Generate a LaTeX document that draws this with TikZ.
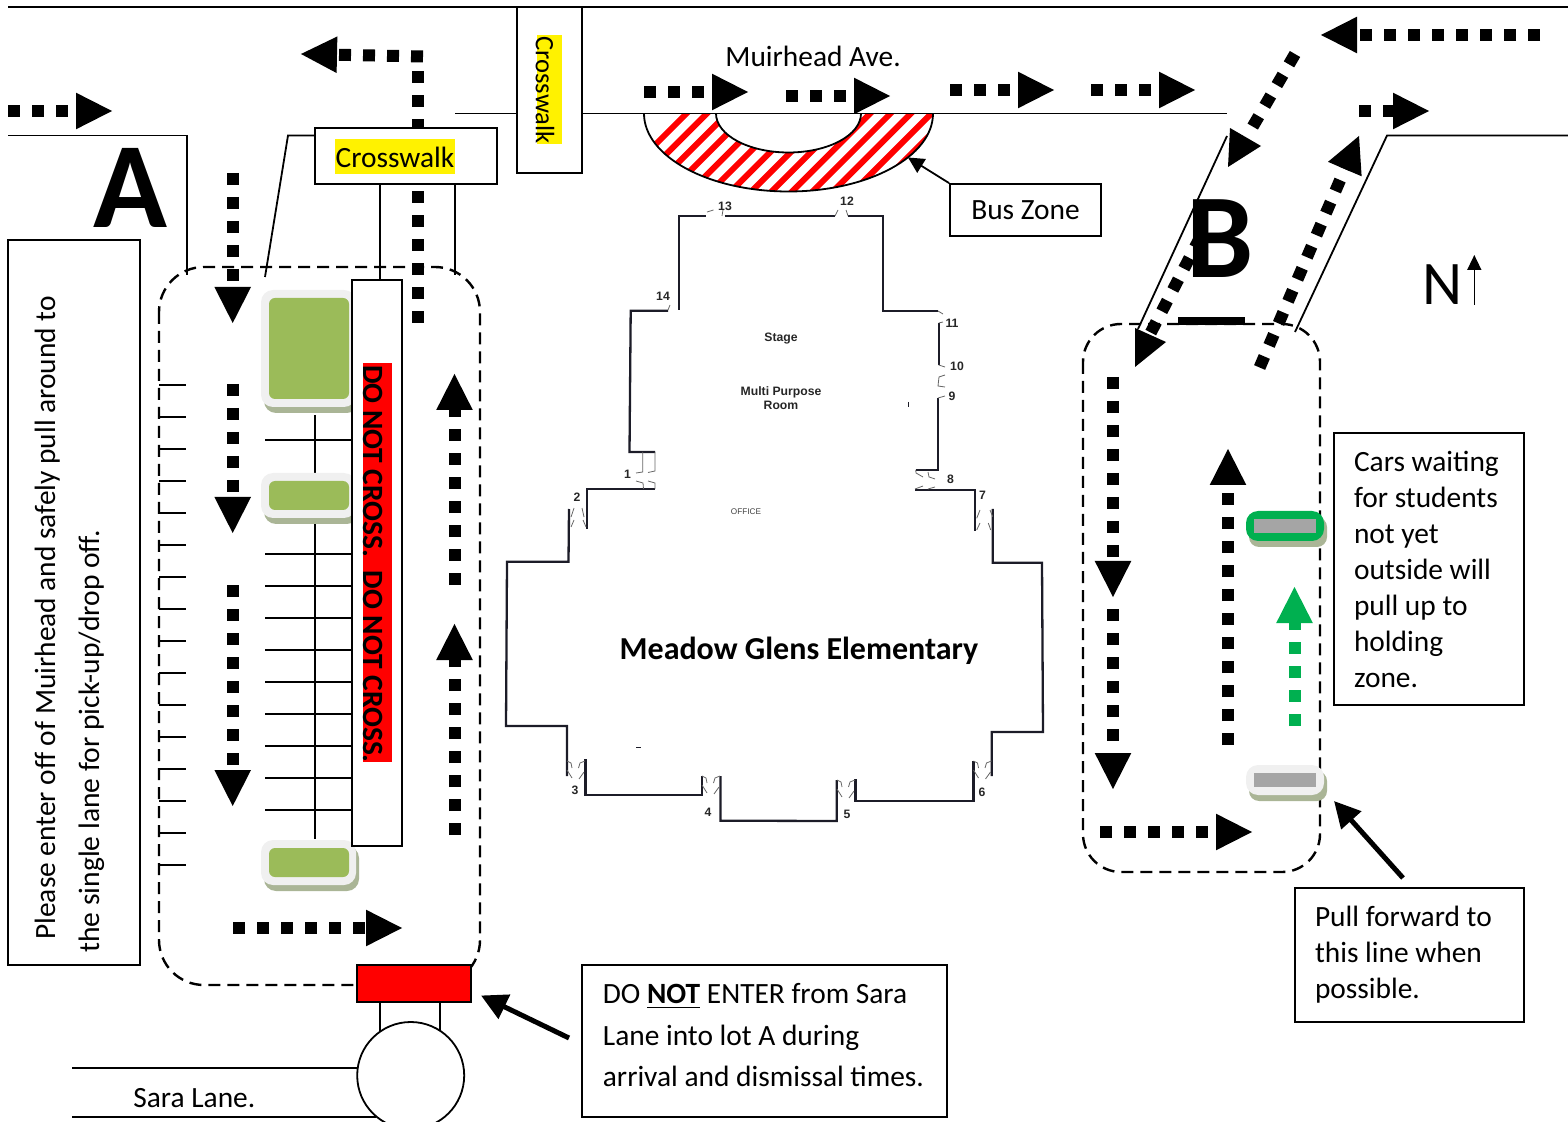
\documentclass[tikz,border=0pt]{standalone}
\usepackage{fontspec}
\setmainfont{Carlito}
\newfontfamily\planfont{Liberation Sans}
\usepackage{xcolor}
\usetikzlibrary{arrows.meta,positioning}
\definecolor{padgreen}{HTML}{9BBB59}
\definecolor{padrim}{HTML}{F0F0F0}
\definecolor{padshade}{HTML}{AAB596}
\definecolor{padgray}{HTML}{A5A5A5}
\definecolor{holdgreen}{HTML}{00B050}
\definecolor{wallink}{HTML}{1C1C28}

\begin{document}
\begin{tikzpicture}[x=0.5pt, y=-0.5pt,
    roadline/.style={line width=0.9pt},
    lotline/.style={line width=1.2pt, dash pattern=on 6pt off 3.5pt},
    darr/.style={line width=6pt, dash pattern=on 6pt off 6pt, shorten >=-0.5pt, -{Triangle[length=18.5pt,width=16.8pt]}},
    dots/.style={line width=6pt, dash pattern=on 6pt off 6pt},
    ptr/.style={line width=2.5pt, -{Triangle[length=13pt,width=13pt]}},
    notebox/.style={draw, fill=white, line width=0.9pt, inner ysep=0pt, inner xsep=10pt, align=left, font=\fontsize{14.7}{18}\selectfont, execute at begin node={\spaceskip=0pt\xspaceskip=0pt\relax}},
    wall/.style={line width=1.15pt, wallink},
    doorline/.style={line width=0.4pt, black!60},
    planlabel/.style={font=\planfont\bfseries\fontsize{6.1}{7}\selectfont, text=black!85, inner sep=0pt},
    txt/.style={inner sep=0pt, font=\fontsize{14.7}{18}\selectfont}
  ]
    \useasboundingbox (0,0) rectangle (1568,1122);

    % Roads
    \draw[roadline] (8,7) -- (1568,7);
    \draw[roadline] (8,135.5) -- (187,135.5) -- (187,275);
    \draw[roadline] (315,135.5) -- (288,135.5) -- (265,277);
    \draw[roadline] (380,184) -- (380,280);
    \draw[roadline] (455,184) -- (455,275);
    \draw[roadline] (455,113.5) -- (517,113.5);
    \draw[roadline] (582,113.5) -- (1227,113.5);
    \draw[roadline] (1227,136) -- (1138,329);
    \draw[roadline] (1568,135.5) -- (1387,135.5) -- (1295,332);

    % Lots
    \draw[lotline, rounded corners=22.5pt] (159,267) rectangle (480,985);
    \draw[lotline, rounded corners=19pt] (1083,324) rectangle (1320,872);

    % Parking stalls
    \foreach \i in {0,...,15}
      \draw[roadline] (159,{384.7+32*\i}) -- (186,{384.7+32*\i});
    \draw[roadline] (265,440) -- (352,440);
    \foreach \i in {0,...,8}
      \draw[roadline] (265,{554+32*\i}) -- (352,{554+32*\i});
    \draw[roadline] (315,415) -- (315,477);
    \draw[roadline] (315,518) -- (315,839);

    % Islands
    \foreach \yt/\yb/\it/\ib in {290/407/298/399, 473/518/481/510, 840/885/848/877} {
      \fill[padshade, rounded corners=6pt] (264,\yt+6) rectangle (359,\yb+6);
      \fill[padrim, rounded corners=6pt] (261,\yt) rectangle (356,\yb);
      \fill[padgreen, rounded corners=3pt] (269,\it) rectangle (349,\ib);
    }

    % Divider
    \node[draw, fill=white, line width=0.9pt, minimum width=25pt, minimum height=283pt, inner sep=0pt] (divider) at (377,563) {};
    \fill[red] (363,363) rectangle (392,762);
    \node[rotate=-90, inner sep=0pt, font=\bfseries\fontsize{14.7}{14}\selectfont] (nocross) at (373.5,564) {DO NOT CROSS.~~DO NOT CROSS.};

    % Lot A flow
    \draw[darr] (8,111) -- (112,111);
    \draw[dots] (417.5,323) -- (417.5,60);
    \draw[darr] (423,56.5) -- (301,54);
    \draw[darr] (232.7,173) -- (232.7,323);
    \draw[darr] (232.7,384) -- (232.7,533);
    \draw[darr] (232.7,585) -- (232.7,806);
    \draw[darr] (233,928) -- (402,928);
    \draw[darr] (454.5,585) -- (454.5,374);
    \draw[darr] (454.5,835) -- (454.5,624);

    % Muirhead flow
    \draw[darr] (644,92) -- (748,92);
    \draw[darr] (786,96) -- (890,96);
    \draw[darr] (950,90) -- (1054,90);
    \draw[darr] (1091,90) -- (1195,90);
    \draw[darr] (1540,35) -- (1321,35);
    \draw[darr] (1359,111) -- (1429,111);

    % Lot B entrance and exit
    \draw[dots] (1295,54) -- (1249,133);
    \fill (1230,128) -- (1228,167) -- (1261,146) -- cycle;
    \draw[dots] (1200.5,236.7) -- (1149,336);
    \fill (1135,328) -- (1135,367) -- (1166,342) -- cycle;
    \draw[darr] (1259.6,367.5) -- (1359,136);

    % Lot B flow
    \draw[darr] (1113,377) -- (1113,597);
    \draw[darr] (1113,609) -- (1113,789);
    \draw[darr] (1100,832) -- (1252,832);
    \draw[darr] (1228,745) -- (1228,449);
    \draw[darr, holdgreen] (1294.5,726) -- (1294.5,587);

    % Waiting spots
    \fill[padshade, rounded corners=5pt] (1249,517) rectangle (1327,547);
    \fill[holdgreen, rounded corners=6pt] (1246,511) rectangle (1324,541);
    \fill[padgray] (1254,519) rectangle (1316,533);
    \fill[padshade, rounded corners=5pt] (1249,771) rectangle (1327,801);
    \fill[padrim, rounded corners=6pt] (1246,765) rectangle (1324,795);
    \fill[padgray] (1254,773) rectangle (1316,787);

    % Bus zone
    \begin{scope}
      \clip (644,113.5) arc[start angle=180, end angle=0, x radius=144.5, y radius=78] -- cycle;
      \foreach \i in {0,...,24}
        \draw[red, line width=3pt] ({600+20.4*\i},200) -- ({690+20.4*\i},110);
    \end{scope}
    \draw[roadline] (644,113.5) arc[start angle=180, end angle=0, x radius=144.5, y radius=78];
    \draw[roadline, fill=white] (716,113.5) arc[start angle=180, end angle=0, x radius=72.5, y radius=39];
    \draw[roadline] (582,113.5) -- (1227,113.5);
    \node[draw, fill=white, line width=0.9pt, minimum width=75.5pt, minimum height=26pt, inner sep=0pt, font=\fontsize{14.7}{18}\selectfont] (buszone) at (1025.5,210) {Bus Zone};
    \coordinate (busspot) at (908,157.5);
    \draw[line width=0.9pt, -{Triangle[length=8pt,width=8pt]}] (buszone.north west) -- (busspot);

    % Crosswalks
    \node[draw, fill=white, line width=0.9pt, minimum width=91pt, minimum height=28pt, inner sep=0pt] (walkbox) at (406,156) {};
    \node[fill=yellow, minimum width=60pt, minimum height=17.5pt, inner sep=0pt, font=\fontsize{14.7}{14}\selectfont] (walklabel) at (395,157) {Crosswalk};
    \node[draw, fill=white, line width=0.9pt, minimum width=32.5pt, minimum height=83pt, inner sep=0pt] (walktop) at (549.5,90) {};
    \fill[yellow] (537,35) rectangle (562,144);
    \node[rotate=-90, inner sep=0pt, font=\fontsize{13.3}{13}\selectfont] (walktoplabel) at (545,90) {Crosswalk};

    % Sara Lane end
    \draw[roadline] (72,1068) -- (357,1068);
    \draw[roadline] (72,1117) -- (376,1117);
    \draw[roadline] (380,1002) -- (380,1032);
    \draw[roadline] (440,1002) -- (440,1032);
    \node[draw, fill=white, line width=0.9pt, circle, minimum size=53.5pt, inner sep=0pt] (turnaround) at (410.7,1075.5) {};
    \node[draw, fill=red, line width=0.6pt, minimum width=57pt, minimum height=18.5pt, inner sep=0pt] (gate) at (414,983.5) {};
    \node[txt, anchor=base west] (sara) at (133,1107) {Sara Lane.};

    % School outline
    \draw[wall] (705.6,216) -- (679,216) -- (679,310);
    \draw[wall] (724.6,216) -- (835,216);
    \draw[wall] (848,216) -- (883,216) -- (883,310.7) -- (938,310.7);
    \draw[wall] (668,310.7) -- (630.7,310.7) -- (629.5,452) -- (655,452);
    \draw[wall] (655,489) -- (587,489) -- (587,529);
    \draw[wall] (569,509) -- (568.5,561.7) -- (507,561.7) -- (506,726) -- (567,726) -- (567,776);
    \draw[wall] (585.4,759) -- (585.4,795) -- (702,795) -- (702,776);
    \draw[wall] (720.4,776) -- (720.4,820.7) -- (836.8,821) -- (836.8,780);
    \draw[wall] (855.4,779) -- (855.4,801) -- (973.5,801) -- (973.5,761);
    \draw[wall] (991.7,776) -- (991.7,732) -- (1043,732) -- (1042,562.7) -- (992.7,562.7) -- (992.7,509);
    \draw[wall] (975,530.7) -- (975,489.7) -- (915,489.7);
    \draw[wall] (915.7,470) -- (938,470) -- (938,398);
    \draw[wall] (938.7,365) -- (938.7,323);

    % Doors
    \foreach \dx/\dy in {567/761, 702/776, 837/780, 973.5/761} {
      \draw[doorline] (\dx,\dy) -- (\dx+4,\dy+2) -- (\dx+5,\dy+7);
      \draw[doorline] (\dx,\dy+9) -- (\dx+5,\dy+17);
      \draw[doorline] (\dx+18,\dy) -- (\dx+13,\dy+2) -- (\dx+11.5,\dy+7);
      \draw[doorline] (\dx+17,\dy+11) -- (\dx+12,\dy+18);
    }
    \foreach \ax/\ay/\bx/\by in {574/508/571/517, 582/508/584/517, 574/520/571/527, 583/520/586/527,
        980/510/976.7/518.3, 990/510/992.7/516.7, 980/523/976.7/530, 988.3/523/990.7/530,
        707/212/713.5/210, 722/216/723/210, 835/216/838/210, 848/216/846/210,
        668/310/670/305, 938/311/943/314, 938.7/323/943/322, 938.7/365/945/367, 938/398/945/396}
      \draw[doorline] (\ax,\ay) -- (\bx,\by);
    \draw[doorline] (945,375) -- (939,377) -- (938,386) -- (945,387);
    \draw[doorline] (642.7,452) -- (642.7,472) -- (636,473);
    \draw[doorline] (655,452) -- (655,471) -- (648,472.5);
    \draw[doorline] (636,481) -- (643,483) -- (643.5,489);
    \draw[doorline] (648,481) -- (655,483) -- (655,489);
    \draw[doorline] (915.7,470) -- (916,473) -- (923,477);
    \draw[doorline] (928,472) -- (929,477) -- (935,479);
    \draw[doorline] (915,489) -- (923,486);
    \draw[doorline] (928,489) -- (935,487);
    \draw[wall, line width=0.5pt] (636,747) -- (641,747);
    \draw[wall, line width=0.5pt] (908.3,402) -- (908.3,407);

    % Door numbers
    \foreach \num/\nx/\ny in {1/627.5/474, 2/577/497, 3/575/790.5, 4/708/812, 5/847/814, 6/982/792, 7/982.5/495,
        8/950.5/479, 9/952/396, 10/957/366, 11/952/323.5, 12/847/201, 13/725/206, 14/663/296}
      \node[planlabel] (door\num) at (\nx,\ny) {\num};

    % Rooms
    \node[planlabel] (stage) at (781,338.5) {Stage};
    \node[planlabel, align=center] (mproom) at (781,398) {Multi Purpose\\Room};
    \node[inner sep=0pt, font=\planfont\fontsize{4.1}{5}\selectfont, text=black!75] (office) at (746,512) {OFFICE};
    \node[inner sep=0pt, font=\bfseries\fontsize{16}{18}\selectfont] (school) at (799,651) {Meadow Glens Elementary};

    % Lot letters and street
    \node[inner sep=0pt, anchor=base, font=\bfseries\fontsize{61}{61}\selectfont] (lota) at (130,228) {A};
    \node[inner sep=0pt, anchor=base, font=\bfseries\fontsize{60}{60}\selectfont] (lotb) at (1220,278) {B};
    \draw[line width=4pt] (1178,321) -- (1245,321);
    \node[txt, anchor=base west] (muirhead) at (725,67) {Muirhead Ave.};

    % North mark
    \node[inner sep=0pt, anchor=base, font=\fontsize{31}{31}\selectfont] (north) at (1442,305) {N};
    \coordinate (northtip) at (1474.3,255);
    \coordinate (northfoot) at (1474.3,305);
    \draw[line width=0.8pt, -{Triangle[length=7.5pt,width=7pt]}] (northfoot) -- (northtip);

    % Notes
    \node[draw, fill=white, line width=0.9pt, minimum width=66pt, minimum height=362.5pt, inner sep=0pt] (entrybox) at (74,602.5) {};
    \node[inner sep=0pt, font=\fontsize{14.7}{18}\selectfont, rotate=90, anchor=base west] (entryone) at (55,940) {Please enter off of Muirhead and safely pull around to};
    \node[inner sep=0pt, font=\fontsize{14.8}{18}\selectfont, rotate=90, anchor=base west] (entrytwo) at (99,953) {the single lane for pick-up/drop off.};

    \node[notebox, text width=75pt, minimum height=136pt] (carsnote) at (1429,569) {Cars waiting\\for students\\not yet\\outside will\\pull up to\\holding\\zone.};
    \node[notebox, text width=94.5pt, minimum height=67pt] (pullnote) at (1409.5,955) {Pull forward to\\this line when\\possible.};
    \node[notebox, minimum width=182.5pt, minimum height=76pt] (enterbox) at (764.5,1041) {};
    \node[notebox, draw=none, fill=none, inner xsep=0pt, anchor=west, text width=162.5pt, font=\fontsize{14.7}{20.75}\selectfont] (enternote) at (602,1035.5) {DO \underline{\textbf{NOT}} ENTER from Sara\\Lane into lot A during\\arrival and dismissal times.};

    % Pointers
    \coordinate (gatespot) at (481,995.5);
    \coordinate (gatefoot) at (569,1038);
    \coordinate (linespot) at (1334,801);
    \coordinate (linefoot) at (1403,878);
    \draw[ptr] (gatefoot) -- (gatespot);
    \draw[ptr] (linefoot) -- (linespot);
\end{tikzpicture}
\end{document}
